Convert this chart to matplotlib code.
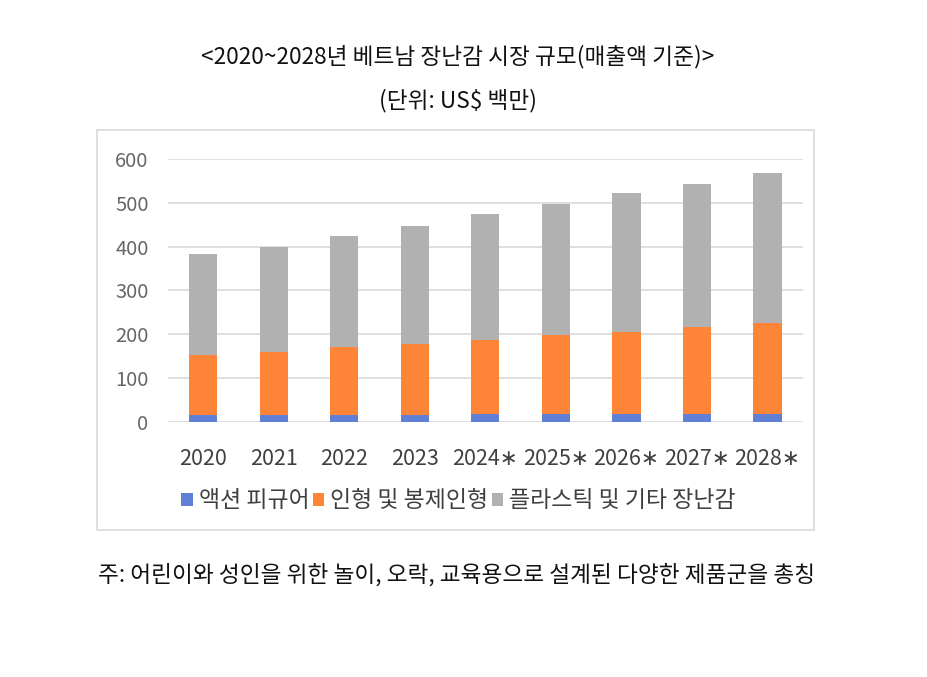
import matplotlib
matplotlib.use('Agg')
import matplotlib.pyplot as plt
import numpy as np
from matplotlib.patches import Rectangle

plt.rcParams['font.family'] = ['Noto Sans CJK KR', 'DejaVu Sans']

# 데이터 (US$ 백만)
years = ['2020', '2021', '2022', '2023', '2024∗', '2025∗', '2026∗', '2027∗', '2028∗']
action_figures = [15, 15, 15, 15, 19, 19, 19, 19, 19]
dolls_plush = [138, 144, 155, 163, 168, 179, 187, 197, 207]
plastic_other = [230, 241, 255, 270, 287, 299, 316, 328, 341]
series_names = ['액션 피규어', '인형 및 봉제인형', '플라스틱 및 기타 장난감']
colors = ['#5f80d6', '#fe8538', '#b1b1b1']

fig = plt.figure(figsize=(9.28, 6.77), dpi=100)

# 차트 영역 테두리
fig.patches.append(Rectangle((0.1045, 0.2171), 0.7726, 0.5908, transform=fig.transFigure,
                             fill=False, edgecolor='#d9d9d9', linewidth=1.2, zorder=0))

ax = fig.add_axes([0.181, 0.3767, 0.684, 0.3885])
x = np.arange(len(years))
b1 = np.array(action_figures)
b2 = b1 + np.array(dolls_plush)
ax.bar(x, action_figures, width=0.4, color=colors[0], label=series_names[0], zorder=3)
ax.bar(x, dolls_plush, width=0.4, bottom=b1, color=colors[1], label=series_names[1], zorder=3)
ax.bar(x, plastic_other, width=0.4, bottom=b2, color=colors[2], label=series_names[2], zorder=3)

ax.set_ylim(0, 600)
ax.set_xlim(-0.5, len(years) - 0.5)
ax.set_yticks(range(0, 601, 100))
ax.set_xticks(x)
ax.set_xticklabels(years)
ax.grid(axis='y', color='#d9d9d9', linewidth=1.2, zorder=0)
for s in ax.spines.values():
    s.set_visible(False)
ax.tick_params(length=0)
ax.tick_params(axis='y', labelsize=14.5, labelcolor='#666666', pad=14)
ax.tick_params(axis='x', labelsize=15.5, labelcolor='#404040', pad=19)

leg = ax.legend(loc='center', bbox_to_anchor=(0.494, 0.26), bbox_transform=fig.transFigure,
                ncol=3, frameon=False, fontsize=16.5, handlelength=0.5, handleheight=0.5,
                handletextpad=0.25, columnspacing=0.15, labelcolor='#404040')

fig.text(0.493, 0.916, '<2020~2028년 베트남 장난감 시장 규모(매출액 기준)>', ha='center', va='center',
         fontsize=16.3, color='#111111')
fig.text(0.493, 0.852, '(단위: US$ 백만)', ha='center', va='center', fontsize=16.3, color='#111111')
fig.text(0.4925, 0.151, '주: 어린이와 성인을 위한 놀이, 오락, 교육용으로 설계된 다양한 제품군을 총칭',
         ha='center', va='center', fontsize=16.3, color='#111111')

fig.savefig('out.png', dpi=100, facecolor='white')
